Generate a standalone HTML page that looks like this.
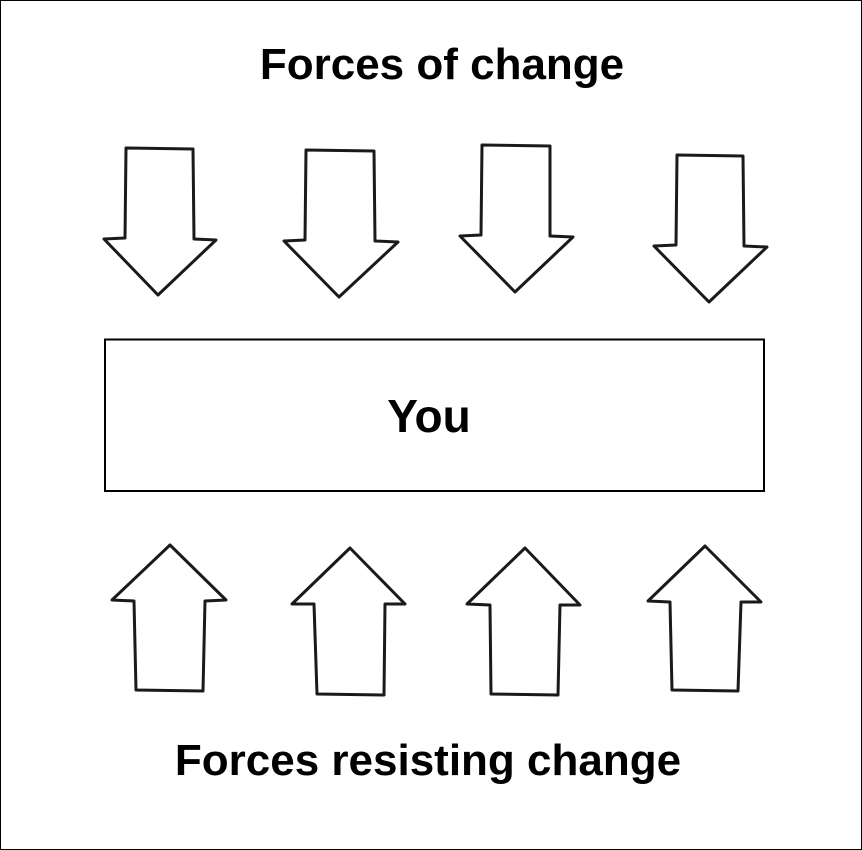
<!DOCTYPE html>
<html><head><meta charset="utf-8"><style>
html,body{margin:0;padding:0;background:#fff;}
svg{display:block;}
</style></head><body>
<svg width="862" height="850" viewBox="0 0 862 850" xmlns="http://www.w3.org/2000/svg">
<rect x="0.5" y="0.5" width="861" height="849" fill="#fff" stroke="#000" stroke-width="1"/>
<g font-family="Liberation Sans, Arial, sans-serif" font-weight="bold" text-anchor="middle" fill="#000">
<text x="442" y="79" font-size="44">Forces of change</text>
<text x="428" y="775" font-size="44">Forces resisting change</text>
<text x="429" y="432" font-size="46">You</text>
</g>
<rect x="105" y="339.5" width="659" height="151.5" fill="none" stroke="#000" stroke-width="2"/>
<g fill="none" stroke="#1a1a1a" stroke-width="3" stroke-linejoin="round" stroke-linecap="round">
<path d="M126,148 L193,149 L194,239 L216,240 L158,295 L104,239 L125,238 Z"/>
<path d="M306,150 L374,151 L375,241 L398,242 L339,297 L284,241 L305,240 Z"/>
<path d="M482,145 L550,146 L550,236 L573,237 L515,292 L460,236 L481,235 Z"/>
<path d="M677,155 L743,156 L744,246 L767,247 L709,302 L654,246 L676,245 Z"/>
<path d="M170,545 L226,600 L205,601 L203,691 L136,690 L134,601 L112,600 Z"/>
<path d="M350,548 L405,604 L385,604 L384,695 L317,694 L314,604 L292,604 Z"/>
<path d="M525,548 L580,605 L560,605 L558,695 L491,694 L490,605 L467,604 Z"/>
<path d="M705,546 L761,602 L741,602 L738,691 L672,690 L670,602 L648,601 Z"/>
</g>
</svg>
</body></html>
